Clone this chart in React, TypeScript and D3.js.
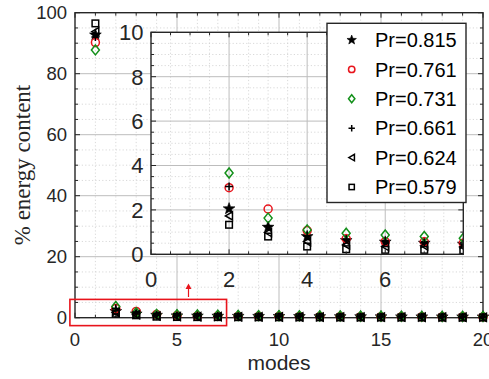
import React from "react";
import * as d3 from "d3";

// Percentage of energy captured by each POD mode, one series per Prandtl number
const modes = d3.range(1, 21);
const labels = ["Pr=0.815", "Pr=0.761", "Pr=0.731", "Pr=0.661", "Pr=0.624", "Pr=0.579"];
const pr0815 = [92.7, 2.05, 1.22, 0.8, 0.62, 0.55, 0.5, 0.46, 0.43, 0.4, 0.38, 0.36, 0.34, 0.32, 0.3, 0.29, 0.28, 0.27, 0.26, 0.25];
const pr0761 = [90.2, 3.0, 2.04, 1.07, 0.7, 0.57, 0.56, 0.5, 0.47, 0.44, 0.41, 0.39, 0.37, 0.35, 0.33, 0.31, 0.3, 0.29, 0.28, 0.27];
const pr0731 = [87.8, 3.66, 1.63, 1.1, 0.95, 0.87, 0.8, 0.72, 0.68, 0.64, 0.6, 0.56, 0.53, 0.5, 0.47, 0.45, 0.43, 0.41, 0.39, 0.37];
const pr0661 = [92.0, 3.05, 1.25, 0.83, 0.68, 0.6, 0.52, 0.47, 0.44, 0.41, 0.39, 0.37, 0.35, 0.33, 0.31, 0.3, 0.29, 0.28, 0.27, 0.26];
const pr0624 = [93.8, 1.73, 0.98, 0.57, 0.42, 0.35, 0.38, 0.33, 0.3, 0.28, 0.26, 0.25, 0.24, 0.23, 0.22, 0.21, 0.2, 0.19, 0.18, 0.17];
const pr0579 = [96.5, 1.33, 0.8, 0.35, 0.23, 0.2, 0.2, 0.18, 0.16, 0.15, 0.14, 0.13, 0.12, 0.11, 0.1, 0.1, 0.09, 0.09, 0.08, 0.08];

const mainXTicks = [0, 5, 10, 15, 20];
const mainYTicks = [0, 20, 40, 60, 80, 100];
const insetXTicks = [0, 2, 4, 6];
const insetYTicks = [0, 2, 4, 6, 8, 10];

type Kind = "star" | "circle" | "diamond" | "plus" | "triangle" | "square";
const kinds: Kind[] = ["star", "circle", "diamond", "plus", "triangle", "square"];
const colors = ["#000000", "#e8141c", "#13901a", "#000000", "#000000", "#000000"];
const seriesValues = [pr0815, pr0761, pr0731, pr0661, pr0624, pr0579];

const W = 489;
const H = 379;
const SANS = "'Liberation Sans', Arial, Helvetica, sans-serif";
const SERIF = "'Liberation Serif', 'Times New Roman', 'DejaVu Serif', serif";
const AX = "#262626";

function starPath(r: number) {
  const pts: string[] = [];
  const ri = r * 0.42;
  for (let i = 0; i < 10; i++) {
    const a = -Math.PI / 2 + (i * Math.PI) / 5;
    const rr = i % 2 === 0 ? r : ri;
    pts.push(`${(rr * Math.cos(a)).toFixed(2)},${(rr * Math.sin(a)).toFixed(2)}`);
  }
  return "M" + pts.join("L") + "Z";
}

function Marker({ kind, x, y, color, s = 1 }: { kind: Kind; x: number; y: number; color: string; s?: number }) {
  const t = `translate(${x},${y})`;
  switch (kind) {
    case "star":
      return <path transform={t} d={starPath(6.2 * s)} fill={color} stroke={color} strokeWidth={0.6} />;
    case "circle":
      return <circle cx={x} cy={y} r={4 * s} fill="none" stroke={color} strokeWidth={1.5} />;
    case "diamond":
      return (
        <path transform={t} d={`M0,${-5 * s}L${4 * s},0L0,${5 * s}L${-4 * s},0Z`} fill="none" stroke={color} strokeWidth={1.5} />
      );
    case "plus":
      return (
        <path transform={t} d={`M${-4 * s},0H${4 * s}M0,${-4 * s}V${4 * s}`} fill="none" stroke={color} strokeWidth={1.5} />
      );
    case "triangle":
      return (
        <path transform={t} d={`M${-3.6 * s},0L${3.4 * s},${-4 * s}L${3.4 * s},${4 * s}Z`} fill="none" stroke={color} strokeWidth={1.5} />
      );
    case "square":
      return (
        <rect x={x - 3.3 * s} y={y - 3.3 * s} width={6.6 * s} height={6.6 * s} fill="none" stroke={color} strokeWidth={1.5} />
      );
  }
}

type Lin = d3.ScaleLinear<number, number>;

function Frame({ x, y, xMinor, yMinor, xMajor, yMajor }: { x: Lin; y: Lin; xMinor: number[]; yMinor: number[]; xMajor: number[]; yMajor: number[] }) {
  const [x0, x1] = x.range();
  const [y0, y1] = y.range();
  const top = Math.min(y0, y1);
  const bot = Math.max(y0, y1);
  return (
    <g>
      {xMinor.map((v) => (
        <line key={"xm" + v} x1={x(v)} x2={x(v)} y1={top} y2={bot} stroke="#cfcfcf" strokeWidth={0.8} strokeDasharray="1.2,2.2" />
      ))}
      {yMinor.map((v) => (
        <line key={"ym" + v} x1={x0} x2={x1} y1={y(v)} y2={y(v)} stroke="#cfcfcf" strokeWidth={0.8} strokeDasharray="1.2,2.2" />
      ))}
      {xMajor.map((v) => (
        <line key={"xg" + v} x1={x(v)} x2={x(v)} y1={top} y2={bot} stroke="#bdbdbd" strokeWidth={1} />
      ))}
      {yMajor.map((v) => (
        <line key={"yg" + v} x1={x0} x2={x1} y1={y(v)} y2={y(v)} stroke="#bdbdbd" strokeWidth={1} />
      ))}
    </g>
  );
}

function Ticks({ x, y, xMinor, yMinor, xMajor, yMajor }: { x: Lin; y: Lin; xMinor: number[]; yMinor: number[]; xMajor: number[]; yMajor: number[] }) {
  const [x0, x1] = x.range();
  const [y0, y1] = y.range();
  const top = Math.min(y0, y1);
  const bot = Math.max(y0, y1);
  const segs: string[] = [];
  xMinor.forEach((v) => segs.push(`M${x(v)},${bot}v-3M${x(v)},${top}v3`));
  xMajor.forEach((v) => segs.push(`M${x(v)},${bot}v-5M${x(v)},${top}v5`));
  yMinor.forEach((v) => segs.push(`M${x0},${y(v)}h3M${x1},${y(v)}h-3`));
  yMajor.forEach((v) => segs.push(`M${x0},${y(v)}h5M${x1},${y(v)}h-5`));
  return (
    <g>
      <path d={segs.join("")} stroke={AX} strokeWidth={1} fill="none" />
      <rect x={x0} y={top} width={x1 - x0} height={bot - top} fill="none" stroke={AX} strokeWidth={1.4} />
    </g>
  );
}

export default function App() {
  // main axes
  const x = d3.scaleLinear().domain([0, 20]).range([75, 483]);
  const y = d3.scaleLinear().domain([0, 100]).range([317.7, 12.7]);
  // inset axes (zoom on modes 0..8)
  const xi = d3.scaleLinear().domain([0, 8]).range([151, 463.3]);
  const yi = d3.scaleLinear().domain([0, 10]).range([254.3, 32.3]);

  const mainXMinor = d3.range(0, 21).filter((v) => v % 5 !== 0);
  const mainYMinor = d3.range(0, 101, 5).filter((v) => v % 20 !== 0);
  const insetXMinor = d3.range(0, 8.01, 0.5).filter((v) => v % 2 !== 0);
  const insetYMinor = d3.range(0, 10.01, 0.5).filter((v) => v % 2 !== 0);

  const legendRows = d3.scaleLinear().domain([0, 5]).range([40, 187]);

  return (
    <svg width={W} height={H} style={{ position: "absolute", left: 0, top: 0, background: "#fff", fontFamily: SANS }}>
      <rect width={W} height={H} fill="#fff" />

      {/* main panel */}
      <Frame x={x} y={y} xMinor={mainXMinor} yMinor={mainYMinor} xMajor={[5, 10, 15]} yMajor={[20, 40, 60, 80]} />
      <Ticks x={x} y={y} xMinor={mainXMinor} yMinor={mainYMinor} xMajor={mainXTicks} yMajor={mainYTicks} />
      {seriesValues.map((vals, si) => (
        <g key={"m" + si}>
          {vals.map((v, i) => (
            <Marker key={i} kind={kinds[si]} x={x(modes[i])} y={y(v)} color={colors[si]} />
          ))}
        </g>
      ))}
      {mainXTicks.map((v) => (
        <text key={"xt" + v} x={x(v)} y={345.6} fontSize={18.5} textAnchor="middle" fill={AX}>
          {v}
        </text>
      ))}
      {mainYTicks.map((v) => (
        <text key={"yt" + v} x={67} y={y(v) + 6.6} fontSize={18.5} textAnchor="end" fill={AX}>
          {v}
        </text>
      ))}
      <text x={279} y={369.5} fontSize={21} textAnchor="middle" fill={AX}>
        modes
      </text>
      <text
        transform="translate(22,165) rotate(-90)"
        style={{ fontFamily: SERIF }}
        fontSize={23}
        textAnchor="middle"
        dominantBaseline="central"
        fill={AX}
      >
        % energy content
      </text>

      {/* zoom box and pointer */}
      <rect x={x(-0.25)} y={y(6)} width={x(7.43) - x(-0.25)} height={y(-2.6) - y(6)} fill="none" stroke="#e8141c" strokeWidth={1.6} />
      <line x1={188.5} x2={188.5} y1={297} y2={288} stroke="#e8141c" strokeWidth={1.2} />
      <path d="M185.5,289L188.5,283.5L191.5,289Z" fill="#e8141c" />

      {/* inset panel */}
      <rect x={151} y={32.3} width={463.3 - 151} height={254.3 - 32.3} fill="#fff" />
      <Frame x={xi} y={yi} xMinor={insetXMinor} yMinor={insetYMinor} xMajor={[2, 4, 6]} yMajor={[2, 4, 6, 8]} />
      <defs>
        <clipPath id="insetClip">
          <rect x={151} y={32.3} width={463.3 - 151} height={254.3 - 32.3} />
        </clipPath>
      </defs>
      <g clipPath="url(#insetClip)">
        {seriesValues.map((vals, si) => (
          <g key={"i" + si}>
            {vals.map((v, i) =>
              modes[i] <= 8 && v <= 10.5 ? (
                <Marker key={i} kind={kinds[si]} x={xi(modes[i])} y={yi(v)} color={colors[si]} />
              ) : null
            )}
          </g>
        ))}
      </g>
      <Ticks x={xi} y={yi} xMinor={insetXMinor} yMinor={insetYMinor} xMajor={insetXTicks} yMajor={insetYTicks} />
      {insetXTicks.map((v) => (
        <text key={"ixt" + v} x={xi(v)} y={287} fontSize={22} textAnchor="middle" fill={AX}>
          {v}
        </text>
      ))}
      {insetYTicks.map((v) => (
        <text key={"iyt" + v} x={143.5} y={yi(v) + 7.9} fontSize={22} textAnchor="end" fill={AX}>
          {v}
        </text>
      ))}

      {/* legend */}
      <rect x={327} y={23.3} width={466 - 327} height={202.5 - 23.3} fill="#fff" stroke={AX} strokeWidth={1.4} />
      {labels.map((lab, i) => (
        <g key={"lg" + i}>
          <Marker kind={kinds[i]} x={351.7} y={legendRows(i)} color={colors[i]} s={0.8} />
          <text x={375} y={legendRows(i) + 7.2} fontSize={20} fill="#000">
            {lab}
          </text>
        </g>
      ))}
    </svg>
  );
}
